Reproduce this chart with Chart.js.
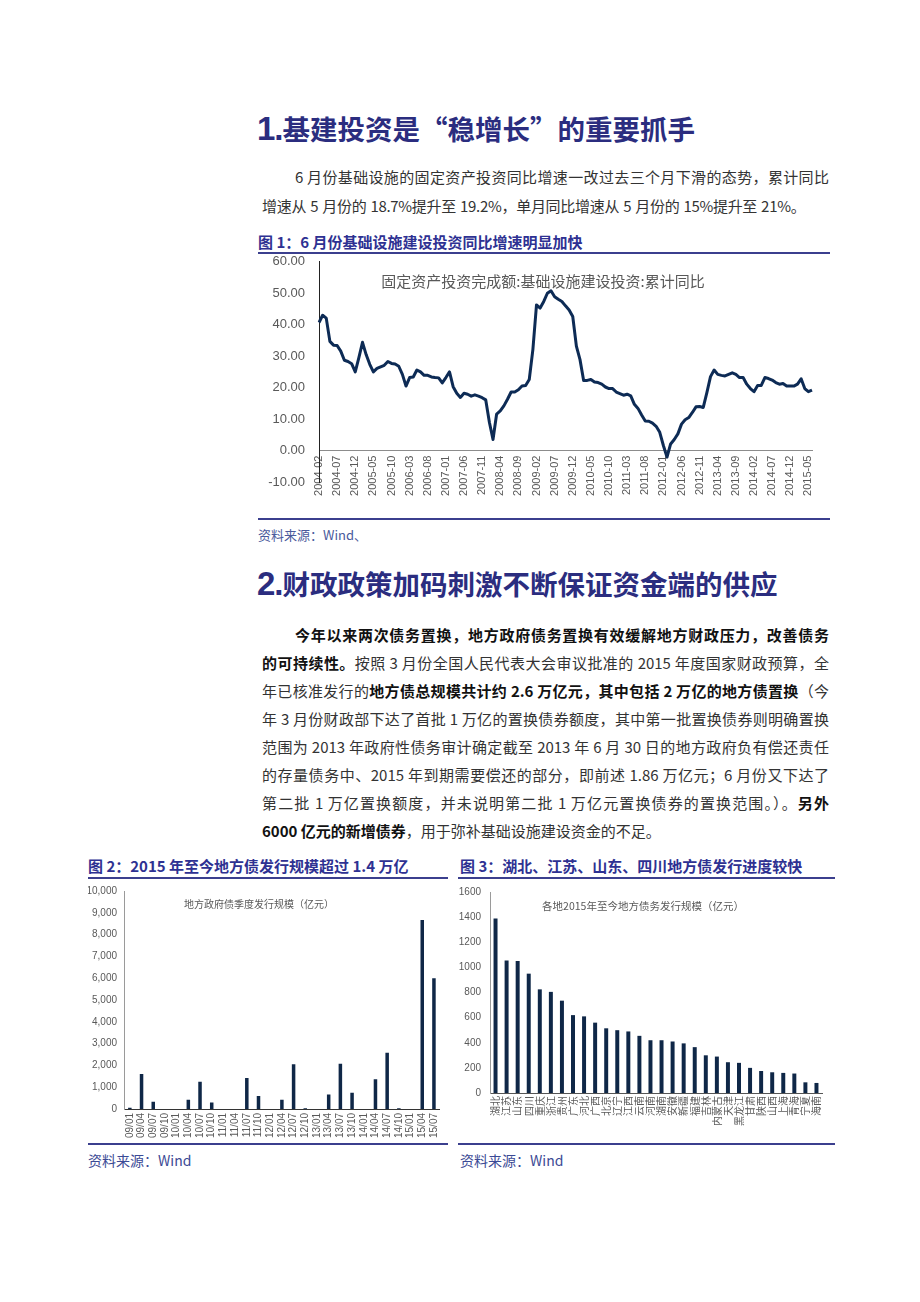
<!DOCTYPE html>
<html lang="zh-CN">
<head>
<meta charset="utf-8">
<script src="https://cdn.jsdelivr.net/npm/chart.js@4.4.1/dist/chart.umd.min.js"></script>
<style>
html,body{margin:0;padding:0;background:#fff;}
body{width:920px;height:1302px;position:relative;overflow:hidden;font-family:"Noto Sans CJK SC","Noto Sans",sans-serif;}
.abs{position:absolute;}
.h{color:#2b2d7f;font-weight:700;font-size:27.5px;line-height:36px;white-space:nowrap;}
.h .n{font-family:"Liberation Sans",Arial,sans-serif;font-size:33px;font-weight:700;letter-spacing:-1px;}
.p{font-size:15px;color:#333;line-height:20px;text-align:justify;text-align-last:justify;}
.p.last{text-align:left;text-align-last:left;white-space:nowrap;}
.p b{color:#111;font-weight:700;}
.ft{color:#2e3192;font-weight:700;font-size:15px;line-height:20px;white-space:nowrap;}
.rule{height:2px;background:#3b3f8e;}
.src{color:#3b4a95;font-size:14px;line-height:18px;white-space:nowrap;}
.ctitle{color:#595959;white-space:nowrap;transform:translate(-50%,-50%);}
canvas{display:block;}
</style>
</head>
<body>
<div class="abs h" style="left:257px;top:110px;"><span class="n">1.</span>基建投资是“稳增长”的重要抓手</div>
<div class="abs p" style="left:295px;top:167px;width:534px;">6 月份基础设施的固定资产投资同比增速一改过去三个月下滑的态势，累计同比</div>
<div class="abs p last" style="left:262px;top:196px;letter-spacing:-0.3px;word-spacing:1px;">增速从 5 月份的 18.7%提升至 19.2%，单月同比增速从 5 月份的 15%提升至 21%。</div>
<div class="abs ft" style="left:258px;top:232px;">图 1：6 月份基础设施建设投资同比增速明显加快</div>
<div class="abs rule" style="left:258px;top:252px;width:572px;"></div>
<div class="abs" style="left:258px;top:240px;width:575px;height:278px;"><canvas id="c1" width="575" height="278"></canvas></div>
<div class="abs ctitle" style="left:543px;top:280px;font-size:15px;">固定资产投资完成额:基础设施建设投资:累计同比</div>
<div class="abs rule" style="left:258px;top:518px;width:572px;"></div>
<div class="abs src" style="left:258px;top:526px;font-size:13px;color:#4a5a9c;">资料来源：Wind、</div>

<div class="abs h" style="left:257px;top:565px;"><span class="n">2.</span>财政政策加码刺激不断保证资金端的供应</div>
<div class="abs p" style="left:295px;top:625px;width:534px;"><b>今年以来两次债务置换，地方政府债务置换有效缓解地方财政压力，改善债务</b></div>
<div class="abs p" style="left:262px;top:653px;width:567px;"><b>的可持续性。</b>按照 3 月份全国人民代表大会审议批准的 2015 年度国家财政预算，全</div>
<div class="abs p" style="left:262px;top:681px;width:567px;">年已核准发行的<b>地方债总规模共计约 2.6 万亿元，其中包括 2 万亿的地方债置换</b>（今</div>
<div class="abs p" style="left:262px;top:709px;width:567px;">年 3 月份财政部下达了首批 1 万亿的置换债券额度，其中第一批置换债券则明确置换</div>
<div class="abs p" style="left:262px;top:737px;width:567px;">范围为 2013 年政府性债务审计确定截至 2013 年 6 月 30 日的地方政府负有偿还责任</div>
<div class="abs p" style="left:262px;top:765px;width:567px;">的存量债务中、2015 年到期需要偿还的部分，即前述 1.86 万亿元；6 月份又下达了</div>
<div class="abs p" style="left:262px;top:793px;width:567px;">第二批 1 万亿置换额度，并未说明第二批 1 万亿元置换债券的置换范围。）。<b>另外</b></div>
<div class="abs p last" style="left:262px;top:821px;letter-spacing:0px;"><b>6000 亿元的新增债券</b>，用于弥补基础设施建设资金的不足。</div>

<div class="abs ft" style="left:88px;top:856px;">图 2：2015 年至今地方债发行规模超过 1.4 万亿</div>
<div class="abs ft" style="left:460px;top:856px;">图 3：湖北、江苏、山东、四川地方债发行进度较快</div>
<div class="abs rule" style="left:88px;top:877px;width:360px;"></div>
<div class="abs rule" style="left:458px;top:877px;width:377px;"></div>
<div class="abs" style="left:88px;top:878px;width:362px;height:264px;"><canvas id="c2" width="362" height="264"></canvas></div>
<div class="abs" style="left:458px;top:877px;width:377px;height:265px;"><canvas id="c3" width="377" height="265"></canvas></div>
<div class="abs ctitle" style="left:259px;top:903px;font-size:10px;">地方政府债季度发行规模（亿元）</div>
<div class="abs ctitle" style="left:643px;top:905px;font-size:10.5px;">各地2015年至今地方债务发行规模（亿元）</div>
<div class="abs rule" style="left:88px;top:1143px;width:360px;"></div>
<div class="abs rule" style="left:458px;top:1143px;width:377px;"></div>
<div class="abs src" style="left:88px;top:1151px;">资料来源：Wind</div>
<div class="abs src" style="left:460px;top:1151px;">资料来源：Wind</div>

<script>
// ---- Figure 1: infrastructure investment, cumulative YoY (%) ----
const months = [];
for (let y = 2004; y <= 2015; y++) {
  for (let m = 1; m <= 12; m++) {
    if ((y === 2004 && m < 2) || (y === 2015 && m > 6)) continue;
    months.push(y + '-' + String(m).padStart(2, '0'));
  }
}
const infraYoY = [
  40.7, 43.0, 42.1, 34.7, 33.5, 33.4, 31.6, 28.7, 28.3, 27.6, 25.0,
  29.5, 34.4, 30.5, 27.4, 25.0, 26.1, 26.6, 27.1, 28.3, 27.7, 27.5, 26.8,
  24.2, 20.5, 23.2, 23.4, 25.6, 25.0, 23.9, 23.9, 23.4, 23.2, 23.1, 21.5,
  23.2, 25.0, 20.3, 18.2, 16.9, 18.2, 17.9, 17.3, 17.7, 17.3, 16.8, 16.1,
  9.0, 3.5, 11.6, 12.6, 14.2, 16.3, 18.6, 18.6, 19.3, 20.5, 20.7, 22.6,
  32.1, 46.3, 45.3, 47.4, 50.0, 50.8, 48.9, 48.1, 47.4, 46.0, 44.7, 42.6,
  33.2, 28.9, 22.3, 22.3, 22.6, 21.8, 21.6, 21.1, 20.2, 19.7, 19.7, 18.6,
  18.1, 17.6, 17.9, 17.4, 14.7, 13.4, 11.3, 9.4, 9.3, 8.7, 7.7, 5.8,
  1.6, -2.1, 2.1, 3.5, 5.3, 8.4, 9.8, 10.5, 12.1, 13.9, 14.0, 13.7,
  18.4, 23.5, 25.6, 24.2, 23.9, 23.7, 24.2, 24.7, 24.2, 23.2, 23.2, 21.1,
  19.7, 18.7, 20.7, 20.7, 23.2, 22.9, 22.4, 21.6, 21.1, 21.3, 20.5, 20.5,
  20.5, 21.1, 22.8, 19.7, 18.7, 19.2
];

// ---- Figure 2: quarterly local government bond issuance (100m yuan) ----
const quarters = ['09/01','09/04','09/07','09/10','10/01','10/04','10/07','10/10','11/01','11/04','11/07','11/10','12/01','12/04','12/07','12/10','13/01','13/04','13/07','13/10','14/01','14/04','14/07','14/10','15/01','15/04','15/07'];
const quarterlyIssuance = [60, 1600, 330, 0, 0, 430, 1250, 300, 0, 0, 1420, 600, 0, 420, 2050, 30, 0, 660, 2080, 750, 0, 1370, 2580, 40, 0, 8670, 6000];

// ---- Figure 3: issuance by province since 2015 (100m yuan) ----
const provinces = ['湖北','江苏','山东','四川','重庆','浙江','贵州','广东','河北','广西','北京','辽宁','江西','云南','河南','湖南','安徽','新疆','福建','吉林','内蒙古','天津','黑龙江','甘肃','陕西','山西','上海','青海','宁夏','海南'];
const provinceIssuance = [1390, 1055, 1050, 950, 825, 805, 735, 620, 610, 560, 515, 500, 490, 455, 420, 420, 410, 395, 365, 300, 290, 245, 240, 200, 175, 165, 160, 155, 85, 80];

const tickGray = '#595959';
const latin = '"Liberation Sans", Arial, sans-serif';
const cjk = '"Noto Sans CJK SC", sans-serif';
const common = {
  responsive: false,
  animation: false,
  events: [],
  plugins: { legend: { display: false }, tooltip: { enabled: false }, title: { display: false } }
};

new Chart(document.getElementById('c1'), {
  type: 'line',
  data: { labels: months, datasets: [{ data: infraYoY, borderColor: '#0d2b55', borderWidth: 3, pointRadius: 0, tension: 0, fill: false, borderJoinStyle: 'round' }] },
  options: Object.assign({}, common, {
    layout: { padding: { top: 0, right: 21, bottom: 36, left: 0 } },
    scales: {
      x: {
        position: { y: 0 },
        grid: { display: false, drawTicks: false },
        border: { color: '#8c8c8c', width: 1 },
        ticks: {
          autoSkip: false, maxRotation: 90, minRotation: 90, padding: 5,
          color: tickGray, font: { family: latin, size: 11 },
          callback: function (v, i) { return i % 5 === 0 ? this.getLabelForValue(v) : ''; }
        }
      },
      y: {
        min: -10, max: 60,
        grid: { display: false, drawTicks: false },
        border: { color: '#222', width: 1 },
        ticks: { stepSize: 10, padding: 14, color: tickGray, font: { family: latin, size: 13 }, callback: v => v.toFixed(2) },
        afterFit(s) { s.width = 61; }
      }
    }
  })
});

new Chart(document.getElementById('c2'), {
  type: 'bar',
  data: { labels: quarters, datasets: [{ data: quarterlyIssuance, backgroundColor: '#0f2747', barPercentage: 0.3, categoryPercentage: 1 }] },
  options: Object.assign({}, common, {
    layout: { padding: { top: 0, right: 3, bottom: 0, left: 0 } },
    scales: {
      x: {
        grid: { display: false, drawTicks: false },
        border: { color: '#333', width: 1 },
        ticks: { autoSkip: false, maxRotation: 90, minRotation: 90, padding: 4, color: tickGray, font: { family: latin, size: 10 } },
        afterFit(s) { s.height = 33; }
      },
      y: {
        min: 0, max: 10000,
        grid: { display: false, drawTicks: false },
        border: { color: '#9a9a9a', width: 1 },
        ticks: { stepSize: 1000, padding: 7, color: tickGray, font: { family: latin, size: 10 }, callback: v => v.toLocaleString('en-US') },
        afterFit(s) { s.width = 36; }
      }
    }
  })
});

new Chart(document.getElementById('c3'), {
  type: 'bar',
  data: { labels: provinces, datasets: [{ data: provinceIssuance, backgroundColor: '#0f2747', barPercentage: 0.36, categoryPercentage: 1 }] },
  options: Object.assign({}, common, {
    layout: { padding: { top: 0, right: 13, bottom: 0, left: 0 } },
    scales: {
      x: {
        grid: { display: false, drawTicks: false },
        border: { color: '#555', width: 1 },
        ticks: { autoSkip: false, maxRotation: 90, minRotation: 90, padding: 3, color: tickGray, font: { family: cjk, size: 10 } },
        afterFit(s) { s.height = 49; }
      },
      y: {
        min: 0, max: 1600,
        grid: { display: false, drawTicks: false },
        border: { color: '#9a9a9a', width: 1 },
        ticks: { stepSize: 200, padding: 9, color: tickGray, font: { family: latin, size: 10 }, callback: v => String(v) },
        afterFit(s) { s.width = 32; }
      }
    }
  })
});
</script>
</body>
</html>
